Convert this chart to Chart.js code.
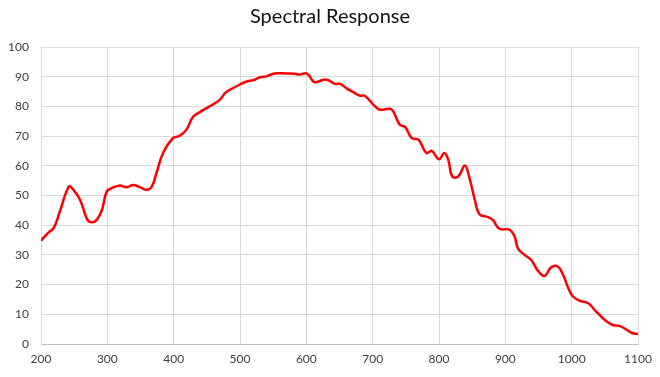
<!DOCTYPE html>
<html>
<head>
<meta charset="utf-8">
<script src="https://cdn.jsdelivr.net/npm/chart.js@4"></script>
<style>
  html, body { margin: 0; padding: 0; background: #fff; }
  #wrap { width: 660px; height: 377px; }
</style>
</head>
<body>
<div id="wrap"><canvas id="chartLine"></canvas></div>
<script>
// wavelength (nm) and response (%)
const wavelengths = [200, 211, 219, 228, 242, 249, 259, 270, 277, 284, 292, 299, 307, 319, 329, 339, 349, 359, 367, 374, 384, 399, 409, 419, 429, 439, 454, 469, 479, 494, 510, 520, 530, 540, 552, 570, 583, 590, 598, 603, 612, 626, 633, 643, 651, 661, 673, 681, 688, 701, 711, 726, 731, 741, 749, 759, 769, 781, 789, 800, 808, 814, 820, 829, 839, 846, 854, 861, 874, 881, 891, 906, 914, 919, 929, 939, 949, 959, 969, 979, 987, 995, 1002, 1012, 1025, 1037, 1050, 1062, 1072, 1085, 1092, 1100];
const response = [34.8, 37.5, 39, 44.3, 53, 51.9, 48.5, 41.8, 41, 41.8, 45.2, 51.3, 52.5, 53.4, 52.8, 53.5, 52.8, 51.9, 53, 57.5, 64.3, 69.3, 70.1, 72.1, 76.4, 78, 80, 82.1, 84.8, 86.7, 88.4, 88.8, 89.8, 90.1, 91.1, 91.1, 91, 90.7, 91.2, 90.7, 88.2, 89, 88.8, 87.6, 87.6, 86, 84.5, 83.6, 83.6, 80.6, 78.9, 79.2, 78.3, 73.8, 73, 69.3, 68.8, 64.3, 65, 62.2, 64.3, 62, 56.4, 56.4, 60.1, 55.8, 48.5, 43.7, 42.7, 41.8, 38.8, 38.5, 36.2, 32.2, 30, 28.3, 24.7, 22.9, 25.8, 26.1, 23.3, 18.8, 16, 14.6, 13.7, 10.9, 8.1, 6.4, 6.1, 4.5, 3.6, 3.4];

const xTicks = [200, 300, 400, 500, 600, 700, 800, 900, 1000, 1100];
const yTicks = [0, 10, 20, 30, 40, 50, 60, 70, 80, 90, 100];

const points = wavelengths.map((w, i) => ({ x: w, y: response[i] }));

const data = {
    datasets: [{
        label: 'Response',
        data: points,
        borderColor: '#ff0000',
        borderWidth: 2.5,
        pointRadius: 0,
        tension: 0.4,
        fill: false
    }]
};

const configLineChart = {
    type: 'line',
    data,
    options: {
        responsive: true,
        maintainAspectRatio: false,
        animation: false,
        layout: { padding: 0 },
        plugins: {
            legend: { display: false },
            tooltip: { enabled: false },
            title: {
                display: true,
                text: 'Spectral Response',
                color: '#111',
                font: { family: 'Lato', size: 20, weight: 'normal' },
                padding: { top: 5, bottom: 18 }
            }
        },
        scales: {
            x: {
                type: 'linear',
                min: xTicks[0],
                max: xTicks[xTicks.length - 1],
                afterBuildTicks: (axis) => { axis.ticks = xTicks.map(v => ({ value: v })); },
                afterFit: (axis) => { axis.height = 33; },
                grid: { color: '#d9d9d9', drawTicks: false },
                border: { color: '#bfbfbf' },
                ticks: { color: '#404040', padding: 8, font: { family: 'Lato', size: 12 }, maxRotation: 0,
                         callback: (v) => String(v) }
            },
            y: {
                min: yTicks[0],
                max: yTicks[yTicks.length - 1],
                afterBuildTicks: (axis) => { axis.ticks = yTicks.map(v => ({ value: v })); },
                afterFit: (axis) => { axis.width = 41; },
                grid: { color: '#d9d9d9', drawTicks: false },
                border: { color: '#d9d9d9' },
                ticks: { color: '#404040', padding: 12, font: { family: 'Lato', size: 12 } }
            },
            // empty spacer on the right so the plot ends at the same place
            spacer: {
                position: 'right',
                display: true,
                afterFit: (axis) => { axis.width = 22; },
                grid: { display: false },
                border: { display: false },
                ticks: { display: false }
            }
        }
    }
};

var chartLine = new Chart(document.getElementById('chartLine'), configLineChart);
</script>
</body>
</html>
